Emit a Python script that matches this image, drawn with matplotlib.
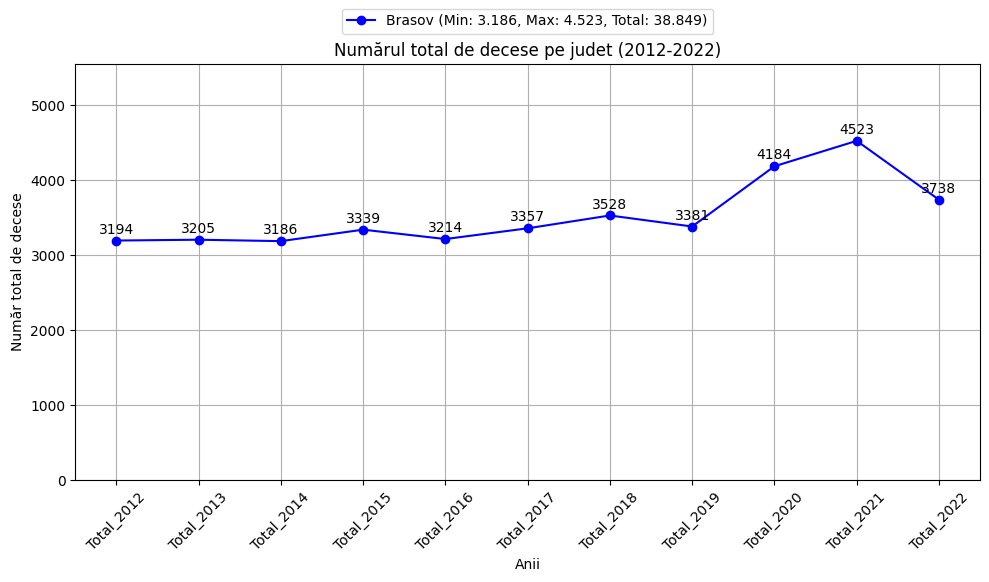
import numpy as np
import matplotlib.pyplot as plt

# date
ani = ['Total_2012', 'Total_2013', 'Total_2014', 'Total_2015', 'Total_2016', 'Total_2017',
       'Total_2018', 'Total_2019', 'Total_2020', 'Total_2021', 'Total_2022']
decese_brasov = [3194, 3205, 3186, 3339, 3214, 3357, 3528, 3381, 4184, 4523, 3738]
judet = 'Brasov'
eticheta = judet + ' (Min: 3.186, Max: 4.523, Total: 38.849)'

fig = plt.figure(figsize=(9.89, 5.82), dpi=100)
ax = fig.add_axes([0.076, 0.175, 0.915, 0.715])

ax.plot(ani, decese_brasov, marker='o', color='blue', label=eticheta)
for i, v in enumerate(decese_brasov):
    ax.annotate(str(v), (i, v), textcoords='offset points', xytext=(0, 5), ha='center', fontsize=10)

ax.set_ylim(0, 5547)
ax.set_title('Numărul total de decese pe judet (2012-2022)')
ax.set_xlabel('Anii')
ax.set_ylabel('Număr total de decese')
ax.tick_params(axis='x', rotation=45)
ax.grid(True)
ax.legend(loc='upper center', bbox_to_anchor=(0.5, 1.15), ncol=1)

fig.savefig('out.png', dpi=100)
